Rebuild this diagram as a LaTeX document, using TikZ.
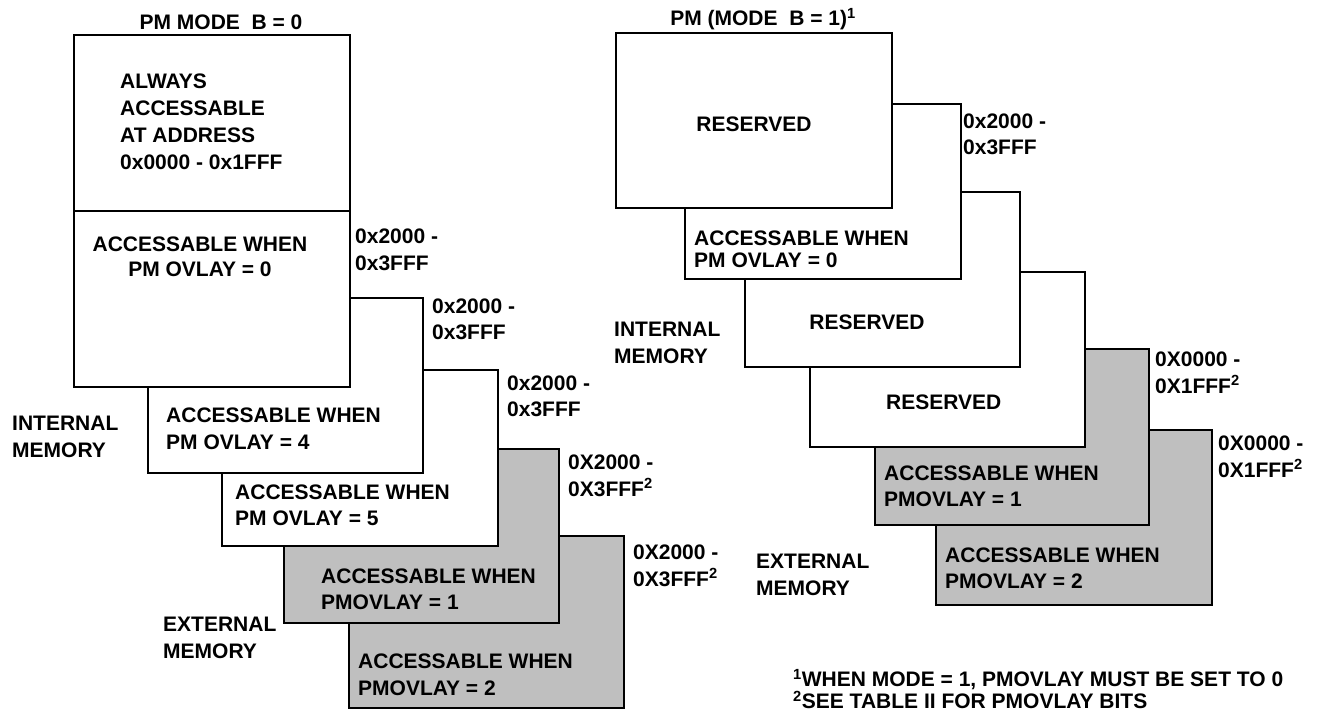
\documentclass[tikz,border=0pt]{standalone}
\usepackage{fontspec}
\setmainfont{Liberation Sans}
\definecolor{memgray}{RGB}{191,191,191}
\begin{document}
\begin{tikzpicture}[x=1pt,y=-1pt,
  mem/.style={draw, line width=1.6pt, fill=white, rectangle, anchor=north west,
    outer sep=0pt, inner sep=0pt, minimum width=#1, minimum height=175pt},
  mem/.default=276pt,
  ext/.style={mem=#1, fill=memgray},
  ext/.default=276pt,
  txt/.style={anchor=west, align=left, inner sep=0pt,
    font=\fontsize{21}{26.5}\selectfont\bfseries},
  ctxt/.style={txt, anchor=center, align=center},
]
\useasboundingbox (0,0) rectangle (1319,713);

% ---------------- left stack (back to front) ----------------
\node[ext=275pt, minimum height=172pt] (lF) at (349,536) {};
\node[ext=275pt, minimum height=174pt] (lE) at (284,449) {};
\node[mem, minimum height=176pt] (lD) at (222,370) {};
\node[mem=275pt] (lC) at (148,298) {};
\node[mem, minimum height=176pt] (lB) at (74,211) {};
\node[mem, minimum height=176pt] (lA) at (74,35) {};

\node[ctxt] (ltitle) at (221,22) {PM MODE~ B = 0};
\node[txt, font=\fontsize{21}{27}\selectfont\bfseries] (lAt) at (120,121.5)
  {ALWAYS\\ACCESSABLE\\AT ADDRESS\\0x0000 - 0x1FFF};
\node[ctxt, font=\fontsize{21}{25}\selectfont\bfseries] (lBt) at (200,256.5)
  {ACCESSABLE WHEN\\PM OVLAY = 0};
\node[txt] (lCt) at (166,429) {ACCESSABLE WHEN\\PM OVLAY = 4};
\node[txt] (lDt) at (235,505.5) {ACCESSABLE WHEN\\PM OVLAY = 5};
\node[txt] (lEt) at (321,589.5) {ACCESSABLE WHEN\\PMOVLAY = 1};
\node[txt] (lFt) at (358,675) {ACCESSABLE WHEN\\PMOVLAY = 2};

\node[txt] (lBl) at (355,250) {0x2000 -\\0x3FFF};
\node[txt] (lCl) at (432,319.5) {0x2000 -\\0x3FFF};
\node[txt] (lDl) at (507,396.5) {0x2000 -\\0x3FFF};
\node[txt] (lEl) at (568,476) {0X2000 -\\0X3FFF\textsuperscript{2}};
\node[txt] (lFl) at (633,566) {0X2000 -\\0X3FFF\textsuperscript{2}};

\node[txt] (lint) at (12,437) {INTERNAL\\MEMORY};
\node[txt] (lext) at (163,638) {EXTERNAL\\MEMORY};

% ---------------- right stack (back to front) ----------------
\node[ext] (rF) at (936,430) {};
\node[ext=274pt, minimum height=176pt] (rE) at (875,349) {};
\node[mem=275pt] (rD) at (810,272) {};
\node[mem=275pt] (rC) at (745,192) {};
\node[mem] (rB) at (685,104) {};
\node[mem] (rA) at (616,33) {};

\node[ctxt] (rtitle) at (763,19) {PM (MODE~ B = 1)\textsuperscript{1}};
\node[ctxt] (rAt) at (754,124) {RESERVED};
\node[txt, font=\fontsize{21}{21.5}\selectfont\bfseries] (rBt) at (694,249.5)
  {ACCESSABLE WHEN\\PM OVLAY = 0};
\node[ctxt] (rCt) at (867,322) {RESERVED};
\node[txt] (rDt) at (886,402) {RESERVED};
\node[txt] (rEt) at (884,486.5) {ACCESSABLE WHEN\\PMOVLAY = 1};
\node[txt] (rFt) at (945,568.5) {ACCESSABLE WHEN\\PMOVLAY = 2};

\node[txt] (rBl) at (963,134.5) {0x2000 -\\0x3FFF};
\node[txt] (rEl) at (1155,373) {0X0000 -\\0X1FFF\textsuperscript{2}};
\node[txt] (rFl) at (1218,457) {0X0000 -\\0X1FFF\textsuperscript{2}};

\node[txt] (rint) at (614,343) {INTERNAL\\MEMORY};
\node[txt] (rext) at (756,575) {EXTERNAL\\MEMORY};

\node[txt, font=\fontsize{21}{22}\selectfont\bfseries] (notes) at (793,689)
  {\textsuperscript{1}WHEN MODE = 1, PMOVLAY MUST BE SET TO 0\\
   \textsuperscript{2}SEE TABLE II FOR PMOVLAY BITS};
\end{tikzpicture}
\end{document}
